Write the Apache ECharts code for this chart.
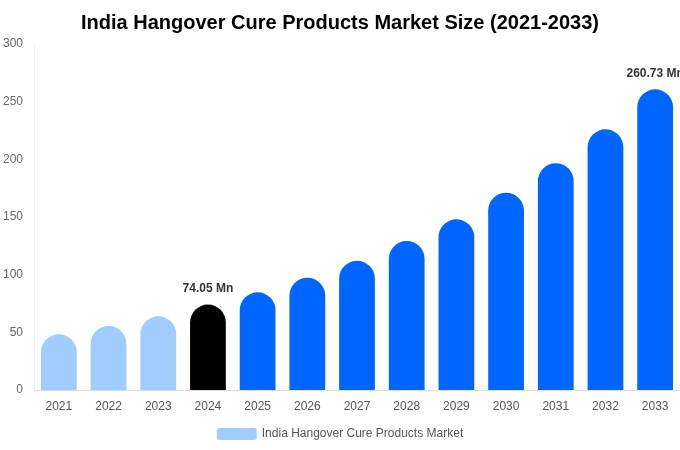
<!DOCTYPE html>
<html>
<head>
<meta charset="utf-8">
<script src="https://cdn.jsdelivr.net/npm/echarts@6/dist/echarts.min.js"></script>
<style>
  html, body { margin: 0; padding: 0; background: #fff; }
  #chart { width: 680px; height: 450px; }
</style>
</head>
<body>
<div id="chart"></div>
<script>
const years = ['2021','2022','2023','2024','2025','2026','2027','2028','2029','2030','2031','2032','2033'];
const marketSize = [48.3, 55.5, 63.9, 74.05, 84.7, 97.4, 112, 129.2, 148, 171.1, 196.6, 226, 260.73];
const yTicks = [0, 50, 100, 150, 200, 250, 300];
const labelledYears = ['2024', '2033'];

const seriesName = 'India Hangover Cure Products Market';
const font = "Arial, 'Liberation Sans', sans-serif";

function barColor(year) {
  if (Number(year) < 2024) return '#a0cdfd';
  if (year === '2024') return '#000000';
  return '#0066ff';
}

let myChart = echarts.init(document.getElementById('chart'));

const barData = marketSize.map((v, i) => ({
  value: v,
  itemStyle: { color: barColor(years[i]) },
  label: {
    show: labelledYears.indexOf(years[i]) >= 0,
    position: 'top',
    distance: 10,
    formatter: '{c} Mn',
    color: '#333',
    fontSize: 12,
    fontWeight: 'bold',
    fontFamily: font
  }
}));

myChart.setOption({
  animation: false,
  title: {
    text: 'India Hangover Cure Products Market Size (2021-2033)',
    left: 'center',
    top: 8,
    textStyle: {
      color: '#000',
      fontSize: 20,
      fontWeight: 'bold',
      fontFamily: font
    }
  },
  legend: {
    bottom: 5,
    left: 'center',
    itemWidth: 40,
    itemHeight: 12,
    itemGap: 6,
    textStyle: { color: '#555', fontSize: 12, fontFamily: font },
    data: [{ name: seriesName, itemStyle: { color: '#a0cdfd' } }]
  },
  grid: {
    left: 34,
    right: 0,
    top: 44,
    bottom: 60,
    containLabel: false
  },
  xAxis: {
    type: 'category',
    data: years,
    axisTick: { show: false },
    axisLine: { lineStyle: { color: '#ddd' } },
    axisLabel: {
      color: '#555',
      fontSize: 12,
      margin: 11,
      fontFamily: font
    }
  },
  yAxis: {
    type: 'value',
    min: yTicks[0],
    max: yTicks[yTicks.length - 1],
    interval: 50,
    axisLine: { show: true, lineStyle: { color: '#eee' } },
    axisTick: { show: false },
    splitLine: { show: false },
    axisLabel: {
      color: '#666',
      fontSize: 12,
      margin: 11,
      fontFamily: font
    }
  },
  series: [{
    name: seriesName,
    type: 'bar',
    barWidth: '72%',
    data: barData,
    itemStyle: { borderRadius: [18, 18, 0, 0] }
  }]
});
</script>
</body>
</html>
